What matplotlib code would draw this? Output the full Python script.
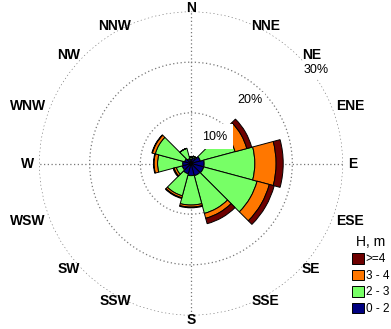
import numpy as np
import matplotlib
matplotlib.use("Agg")
import matplotlib.pyplot as plt
from matplotlib.patches import Patch

plt.rcParams['font.family'] = ['Liberation Sans', 'DejaVu Sans']

# direction (deg, clockwise from N) of each sector
directions = [0, 30, 60, 90, 120, 150, 180, 210, 240, 270, 300, 330]
# frequency (%) per wave-height class
h_0_2 = [0.9, 1.2, 1.9, 2.6, 2.6, 2.5, 2.4, 2.1, 1.8, 1.65, 1.3, 1.0]
h_2_3 = [0.4, 0.3, 7.1, 10.0, 10.9, 7.7, 5.8, 4.5, 1.2, 4.95, 6.0, 2.1]
h_3_4 = [0.0, 0.0, 2.4, 4.2, 2.5, 1.0, 0.4, 0.4, 0.45, 0.7, 0.6, 0.0]
h_4 = [0.0, 0.0, 1.0, 1.4, 1.0, 1.1, 0.15, 0.15, 0.2, 0.1, 0.1, 0.0]

classes = ['0 - 2', '2 - 3', '3 - 4', '>=4']
colors = ['#000080', '#77FF66', '#FF7700', '#6E0000']

compass = ['N', 'NNE', 'NE', 'ENE', 'E', 'ESE', 'SE', 'SSE',
           'S', 'SSW', 'SW', 'WSW', 'W', 'WNW', 'NW', 'NNW']
ring_values = [10, 20, 30]
ring_labels = ['10%', '20%', '30%']

W, H = 391, 329
fig = plt.figure(figsize=(W / 100, H / 100), dpi=100)
cx, cy, R = 191, 163.5, 152
ax = fig.add_axes([(cx - R) / W, (H - cy - R) / H, 2 * R / W, 2 * R / H],
                  projection='polar')
ax.set_theta_zero_location('N')
ax.set_theta_direction(-1)
ax.set_ylim(0, 30)
ax.spines['polar'].set_visible(False)
ax.set_facecolor('none')

ax.set_rgrids(ring_values, labels=['', '', ''])
ax.set_thetagrids([0, 90, 180, 270], labels=['', '', '', ''])
ax.grid(True, color='#777777', linestyle=(0, (1, 2)), linewidth=0.9)
ax.set_axisbelow(True)

theta = np.deg2rad(directions)
width = np.deg2rad(30)
bottom = np.zeros(len(directions))
for vals, col in zip([h_0_2, h_2_3, h_3_4, h_4], colors):
    vals = np.array(vals)
    ax.bar(theta, vals, width=width, bottom=bottom, color=col,
           edgecolor='black', linewidth=0.7, zorder=3)
    bottom = bottom + vals

# ring labels
ring_pos = [(41, 7.0), (43, 17.1), (53.2, 30.8)]
ring_pad = [4.5, 1.5, 1.5]
for (ang, rr), lab, pd in zip(ring_pos, ring_labels, ring_pad):
    ax.text(np.deg2rad(ang), rr, lab, ha='center', va='center', fontsize=9,
            zorder=10, clip_on=False,
            bbox=dict(facecolor='white', edgecolor='none', pad=pd))

# compass labels
Rx, Ry = 157, 149
for i, lab in enumerate(compass):
    a = np.deg2rad(i * 22.5)
    s, c = np.sin(a), np.cos(a)
    if abs(s) < 0.01:
        ha = 'center'
        ry = 156
    else:
        ha = 'left' if s > 0 else 'right'
        ry = Ry
    if lab in ('NE', 'NW'):
        ry = 153
    x = 0.5 + Rx * s / (2 * R)
    y = 0.5 + ry * c / (2 * R)
    ax.text(x, y, lab, transform=ax.transAxes, ha=ha, va='center',
            fontsize=10, fontweight='bold', clip_on=False, zorder=11)

handles = [Patch(facecolor=colors[k], edgecolor='black', linewidth=0.7,
                 label=classes[k]) for k in [3, 2, 1, 0]]
leg = fig.legend(handles=handles, title='H, m', loc='upper left',
                 bbox_to_anchor=(352 / W, 1 - 235 / H), frameon=False,
                 fontsize=8.5, title_fontsize=10, handlelength=1.0,
                 handleheight=1.0, handletextpad=0.15, labelspacing=0.35,
                 borderpad=0.0, borderaxespad=0.0)

fig.savefig('out.png', dpi=100)
